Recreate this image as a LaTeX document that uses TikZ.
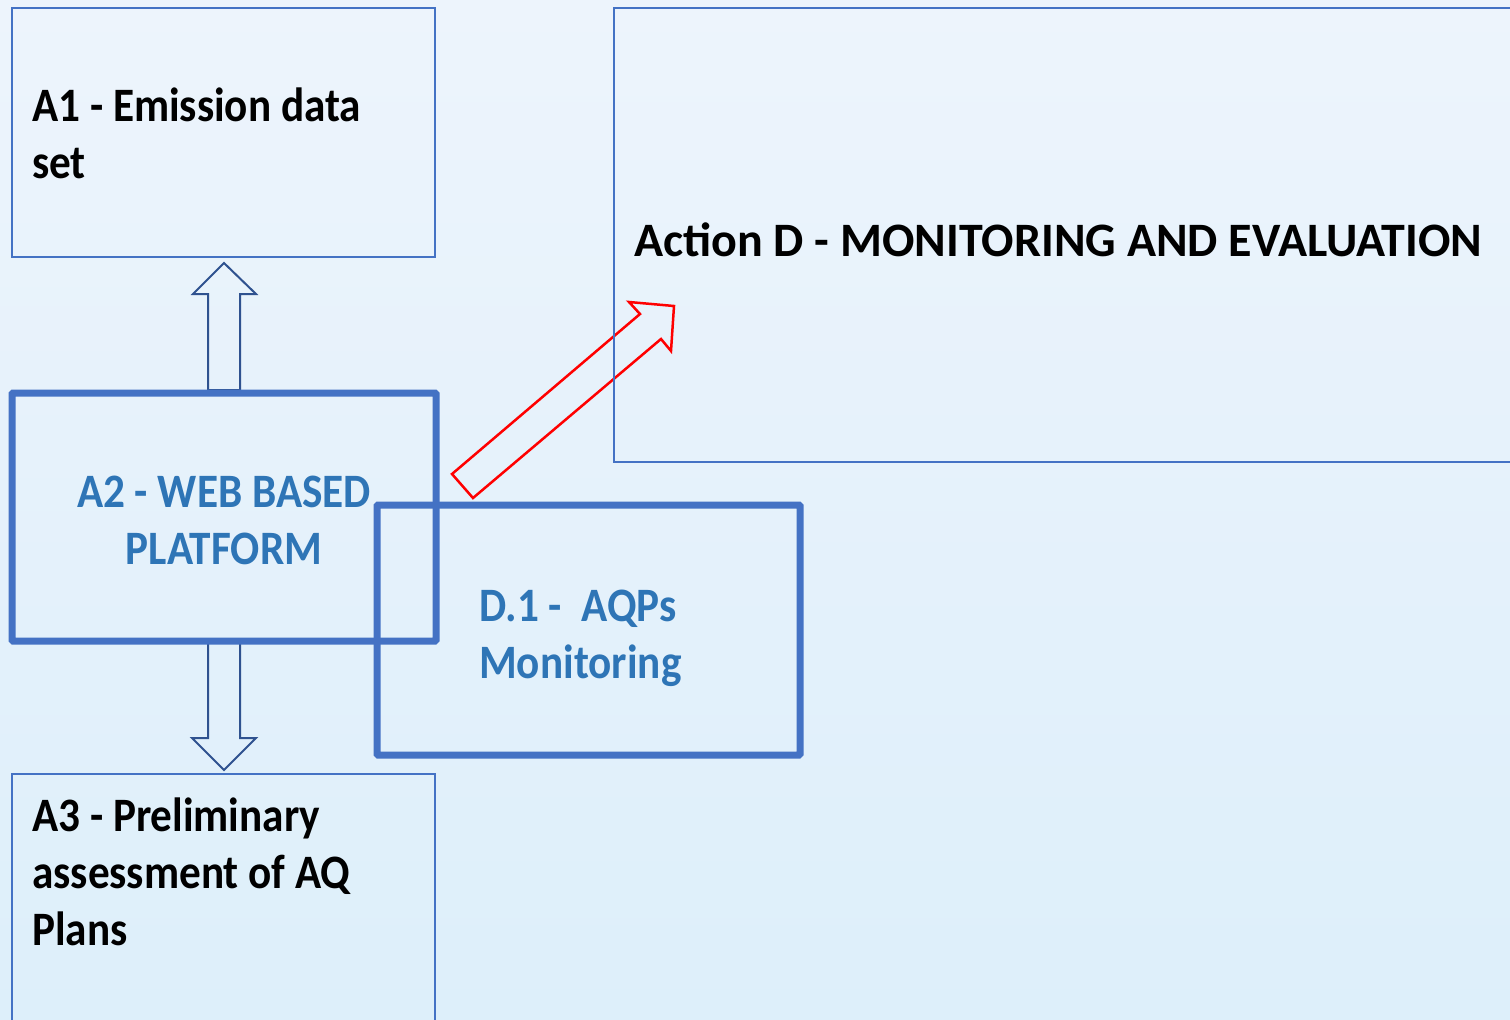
\documentclass[tikz,border=0pt]{standalone}
\usepackage{fontspec}
\setmainfont{Carlito}
\newfontfamily\narrowfont{Carlito}[FakeStretch=0.9]
\usepackage{tikz}
\usetikzlibrary{positioning}
\definecolor{boxblue}{HTML}{4472C4}
\definecolor{arrowblue}{HTML}{2F528F}
\definecolor{textblue}{HTML}{2E75B6}
\definecolor{skytop}{RGB}{237,244,252}
\definecolor{skybottom}{RGB}{221,239,250}

\begin{document}
\begin{tikzpicture}[x=1pt,y=-1pt,
    thinbox/.style={draw=boxblue, line width=1.5pt, inner sep=0pt},
    thickbox/.style={draw=boxblue, line width=7pt, rounded corners=1pt, inner sep=0pt},
    blocktext/.style={font=\narrowfont\fontsize{48}{57}\selectfont\bfseries, align=left, anchor=base west, inner sep=0pt},
    blockarrow/.style={draw=arrowblue, line width=2pt, line join=miter}]

    \useasboundingbox (0,0) rectangle (1510,1020) ;
    \fill [top color=skytop, bottom color=skybottom] (0,0) rectangle (1510,1020) ;

    % block arrows
    \draw [blockarrow] (224,263) -- (256,294) -- (240,294) -- (240,390)
      -- (208,390) -- (208,294) -- (193,294) -- cycle ;
    \draw [blockarrow] (208,641) -- (240,641) -- (240,738) -- (256,738)
      -- (224,770) -- (192,738) -- (208,738) -- cycle ;
    \draw [red, line width=2.5pt, line join=miter] (452,474) -- (640,314) -- (629,302)
      -- (674,306) -- (671,351) -- (661,339) -- (473,498) -- cycle ;

    % boxes
    \node [thinbox, minimum width=423pt, minimum height=249pt] (a1) at (223.5,132.5) {} ;
    \node [thinbox, minimum width=900pt, minimum height=454pt] (actd) at (1064,235) {} ;
    \node [thinbox, minimum width=423pt, minimum height=300pt] (a3) at (223.5,924) {} ;
    \node [thickbox, minimum width=424pt, minimum height=248pt] (a2) at (224,517) {} ;
    \node [thickbox, minimum width=423pt, minimum height=250pt] (d1) at (588.5,630) {} ;

    % labels (base = last line)
    \node [blocktext] (a1text) at (32,178) {A1 - Emission data\\set} ;
    \node [blocktext, align=center, anchor=base, text=textblue] (a2text) at (224,564)
      {A2 - WEB BASED\\PLATFORM} ;
    \node [blocktext] (a3text) at (32,945) {A3 - Preliminary\\assessment of AQ\\Plans} ;
    \node [blocktext, text=textblue] (d1text) at (479,678) {D.1 -\ \ AQPs\\Monitoring} ;
    \node [blocktext, font=\fontsize{48}{57}\selectfont\bfseries] (actdtext) at (634,256)
      {Action D - MONITORING AND EVALUATION} ;

\end{tikzpicture}
\end{document}
